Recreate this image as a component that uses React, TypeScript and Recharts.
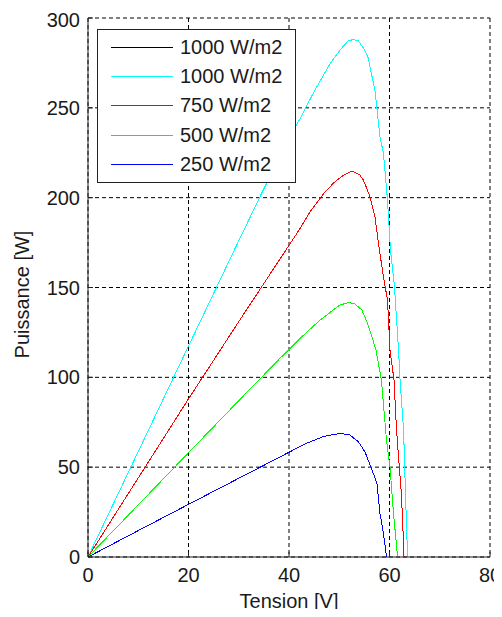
import React from 'react';
import { LineChart, Line, XAxis, YAxis, CartesianGrid, Legend } from 'recharts';

const xTicks = [0, 20, 40, 60, 80];
const yTicks = [0, 50, 100, 150, 200, 250, 300];
const seriesNames = ['1000 W/m2', '1000 W/m2', '750 W/m2', '500 W/m2', '250 W/m2'];
const seriesColors = ['#000000', '#00ffff', '#ff0000', '#00ff00', '#0000ff'];

// 1000 W/m2 (cyan, black lies underneath)
const v1000 = [0, 10, 20, 30, 35, 40, 42.2, 44.8, 48.2, 50.1, 51.8, 52.8, 53.8, 55.1, 55.8, 56.4, 57.1, 58.1, 58.8, 59.6, 60.2, 61, 61.8, 62.1, 62.8, 63.3, 63.6];
const p1000 = [0, 58.7, 117.4, 176, 205, 233, 244, 258, 274.7, 282, 287.3, 288, 287.3, 282, 277.5, 269, 260, 234, 224.6, 198.7, 170.8, 150.2, 115.2, 98.5, 70.7, 24.5, 0];

// 750 W/m2
const v750 = [0, 10, 20, 30, 38, 42.2, 44.2, 47.2, 49, 50.9, 52.5, 54.1, 54.8, 55.5, 56.1, 57.1, 58, 58.8, 59.6, 60.1, 60.9, 61.4, 62.4, 62.9];
const p750 = [0, 44, 88, 131, 165, 182.8, 192.2, 203.3, 208.5, 212.6, 214.8, 212.6, 209.8, 205, 200.5, 189.4, 170.8, 156, 143, 115.2, 98.5, 70.7, 33.6, 0];

// 500 W/m2
const v500 = [0, 10, 20, 30, 38, 42.2, 46.2, 50.1, 51.9, 53.1, 54.5, 55.5, 56.4, 57.3, 58.4, 59.4, 60.1, 60.8, 61.6];
const p500 = [0, 29, 58, 87, 110, 121.7, 131.9, 140.2, 141.7, 140.8, 137.5, 131, 123.5, 115.2, 98.5, 65.1, 50, 24.3, 0];

// 250 W/m2
const v250 = [0, 10, 20, 30, 40.2, 43.5, 46.8, 50.1, 52.1, 53.8, 55.1, 56.4, 57.5, 58.1, 58.8, 59.4];
const p250 = [0, 14.7, 29.3, 43.8, 58.6, 63.3, 67, 68.8, 67.9, 64.2, 58.6, 49.4, 41, 24.3, 13.2, 0];

const zip = (v: number[], p: number[]) => v.map((x, i) => ({ v: x, p: p[i] }));

const seriesData = [
  zip(v1000, p1000),
  zip(v1000, p1000),
  zip(v750, p750),
  zip(v500, p500),
  zip(v250, p250),
];

const FONT = '"Liberation Sans", Arial, sans-serif';
const INK = '#1a1a1a';
const tickStyle = { fontSize: 20, fill: INK, fontFamily: FONT };

const LegendBox = () => (
  <div
    style={{
      width: 199,
      height: 154,
      border: '1px solid #222',
      background: '#fff',
      boxSizing: 'border-box',
      position: 'relative',
      fontFamily: FONT,
      fontSize: 20,
      color: INK,
    }}
  >
    {seriesNames.map((n, i) => (
      <div
        key={i}
        style={{
          position: 'absolute',
          left: 0,
          top: 2.5 + i * 29.4,
          height: 29,
          display: 'flex',
          alignItems: 'center',
          whiteSpace: 'nowrap',
        }}
      >
        <div style={{ marginLeft: 13, width: 62, height: 1, background: seriesColors[i] }} />
        <span style={{ marginLeft: 7, lineHeight: '29px' }}>{n}</span>
      </div>
    ))}
  </div>
);

export default function App() {
  return (
    <div style={{ width: 494, height: 601, overflow: 'visible' }}>
      <LineChart width={494} height={609} margin={{ top: 10, right: 12, left: 0, bottom: 0 }}>
        <CartesianGrid stroke="#000" strokeDasharray="4 3" strokeWidth={1} />
        <XAxis
          dataKey="v"
          type="number"
          domain={[0, 80]}
          ticks={xTicks}
          allowDataOverflow
          height={60}
          stroke="#222"
          tickSize={-5}
          tickMargin={16}
          tick={tickStyle}
          label={{ value: 'Tension [V]', position: 'insideBottom', offset: 9, style: { fontSize: 20, fill: INK, fontFamily: FONT } }}
        />
        <XAxis
          xAxisId="top"
          orientation="top"
          type="number"
          domain={[0, 80]}
          ticks={xTicks}
          height={0}
          stroke="#222"
          tickSize={-5}
          tick={false}
        />
        <YAxis
          type="number"
          domain={[0, 300]}
          ticks={yTicks}
          allowDataOverflow
          width={80}
          stroke="#222"
          tickSize={-5}
          tickMargin={13}
          tick={tickStyle}
          label={{ value: 'Puissance [W]', angle: -90, position: 'insideLeft', offset: 14, dy: 7, style: { textAnchor: 'middle', fontSize: 20, fill: INK, fontFamily: FONT } }}
        />
        <YAxis
          yAxisId="right"
          orientation="right"
          type="number"
          domain={[0, 300]}
          ticks={yTicks}
          width={0}
          stroke="#222"
          tickSize={-5}
          tick={false}
        />
        {seriesData.map((d, i) => (
          <Line
            key={i}
            data={d}
            dataKey="p"
            name={seriesNames[i]}
            type="linear"
            stroke={seriesColors[i]}
            strokeWidth={1}
            shapeRendering="crispEdges"
            dot={false}
            activeDot={false}
            isAnimationActive={false}
          />
        ))}
        <Legend
          layout="horizontal"
          verticalAlign="middle"
          align="center"
          content={() => <LegendBox />}
          wrapperStyle={{ position: 'absolute', left: 89, top: 21, width: 199, height: 154 }}
        />
      </LineChart>
    </div>
  );
}
